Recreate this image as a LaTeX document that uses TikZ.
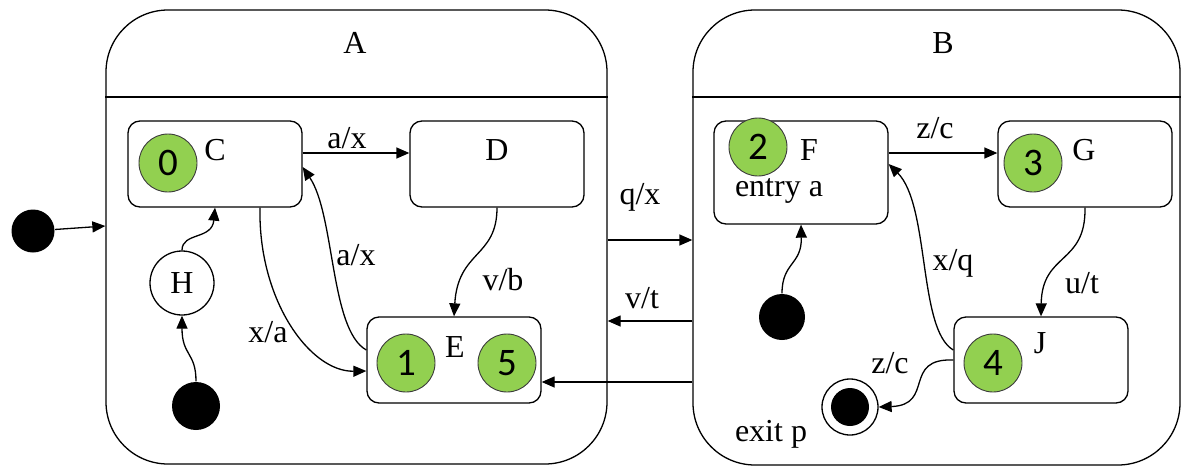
\documentclass[tikz,border=0pt]{standalone}
\usepackage{fontspec}
\setmainfont{Liberation Serif}
\newfontfamily\numfont{Carlito}
\usetikzlibrary{arrows.meta}
\definecolor{stgreen}{RGB}{146,208,80}
\definecolor{stborder}{RGB}{60,60,60}
\begin{document}
\begin{tikzpicture}[x=1pt,y=-1pt,line width=1.3pt,
  every node/.style={font=\fontsize{32}{34}\selectfont, inner sep=0pt},
  outerstate/.style={draw, rounded corners=62pt},
  box/.style={draw, rounded corners=12pt, minimum width=174pt, minimum height=86pt},
  num/.style={circle, draw=stborder, line width=0.9pt, fill=stgreen, minimum size=58pt, font=\numfont\fontsize{39}{41}\selectfont},
  hist/.style={circle, draw, minimum size=64pt},
  initdot/.style={circle, fill=black, minimum size=48pt},
  arr/.style={-{Triangle[length=13pt,width=11pt]}},
  lbl/.style={font=\fontsize{32}{34}\selectfont}]
\useasboundingbox (0,0) rectangle (1183,466);

% outer states
\node[outerstate, minimum width=501pt, minimum height=454pt] (A) at (356.5,237) {};
\node[outerstate, minimum width=487pt, minimum height=455pt] (B) at (936.5,237.5) {};
\draw (A.west |- 0,97) -- (A.east |- 0,97);
\draw (B.west |- 0,97) -- (B.east |- 0,97);
\node[lbl] (Alab) at (355,43) {A};
\node[lbl] (Blab) at (943,43) {B};

% substates of A
\node[box] (C) at (215,164) {};
\node[num] (n0) at (168,163) {0};
\node[lbl] (Clab) at (215,150) {C};
\node[box] (D) at (497,164) {};
\node[lbl] (Dlab) at (497,150) {D};
\node[box] (E) at (454,360) {};
\node[num] (n1) at (406,363) {1};
\node[num] (n5) at (507,363) {5};
\node[lbl] (Elab) at (455,347) {E};
\node[hist] (H) at (182,283) {H};
\node[initdot] (iH) at (196,406) {};
\node[initdot, minimum size=43pt] (i0) at (33,231) {};

% substates of B
\node[box, minimum height=103pt] (F) at (801,172.5) {};
\node[num] (n2) at (758,147) {2};
\node[lbl] (Flab) at (809,150) {F};
\node[lbl] (Fent) at (779,191) {entry a};
\node[box] (G) at (1085,164) {};
\node[num] (n3) at (1033,163) {3};
\node[lbl] (Glab) at (1084,150) {G};
\node[box] (J) at (1041,360) {};
\node[num] (n4) at (993,363) {4};
\node[lbl] (Jlab) at (1040,343) {J};
\node[initdot, minimum size=46pt] (iF) at (782,317) {};
\node[circle, draw, minimum size=56pt] (fin) at (850,407) {};
\node[circle, fill=black, minimum size=38pt] (finin) at (fin.center) {};
\node[lbl] (exitp) at (771,434) {exit p};

% connectors in A
\draw[arr] (i0) -- (A.west |- 0,226);
\draw[arr] (C.east |- 0,153) -- (D.west |- 0,153);
\node[lbl] (lax1) at (347,138) {a/x};
\draw[arr] (D.south) .. controls (497,258) and (458,250) .. (E.north);
\node[lbl] (lvb) at (503,280) {v/b};
\draw[arr] (E.west |- 0,350) .. controls (330,330) and (335,215) .. (C.east |- 0,167);
\node[lbl] (lax2) at (356,255) {a/x};
\draw[arr] (C.south -| 260,0) .. controls (258,300) and (310,372) .. (E.west |- 0,371);
\node[lbl] (lxa) at (268,332) {x/a};
\draw[arr] (H.north) .. controls (182,232) and (212,240) .. (C.south);
\draw[arr] (iH.north) .. controls (196,352) and (182,356) .. (H.south);

% connectors between A and B
\draw[arr] (A.east |- 0,240) -- (B.west |- 0,240);
\node[lbl] (lqx) at (640,197) {q/x};
\draw[arr] (B.west |- 0,321) -- (A.east |- 0,321);
\node[lbl] (lvt) at (642,298) {v/t};
\draw[arr] (B.west |- 0,382) -- (E.east |- 0,382);

% connectors in B
\draw[arr] (F.east |- 0,153) -- (G.west |- 0,153);
\node[lbl] (lzc1) at (935,128) {z/c};
\draw[arr] (G.south) .. controls (1086,265) and (1042,252) .. (J.north);
\node[lbl] (lut) at (1082,283) {u/t};
\draw[arr] (J.west |- 0,350) .. controls (918,330) and (930,205) .. (F.east |- 0,164);
\node[lbl] (lxq) at (953,263) {x/q};
\draw[arr] (J.west |- 0,360) .. controls (902,358) and (935,405) .. (fin.east);
\node[lbl] (lzc2) at (890,363) {z/c};
\draw[arr] (iF.north) .. controls (782,262) and (802,265) .. (F.south);
\end{tikzpicture}
\end{document}
